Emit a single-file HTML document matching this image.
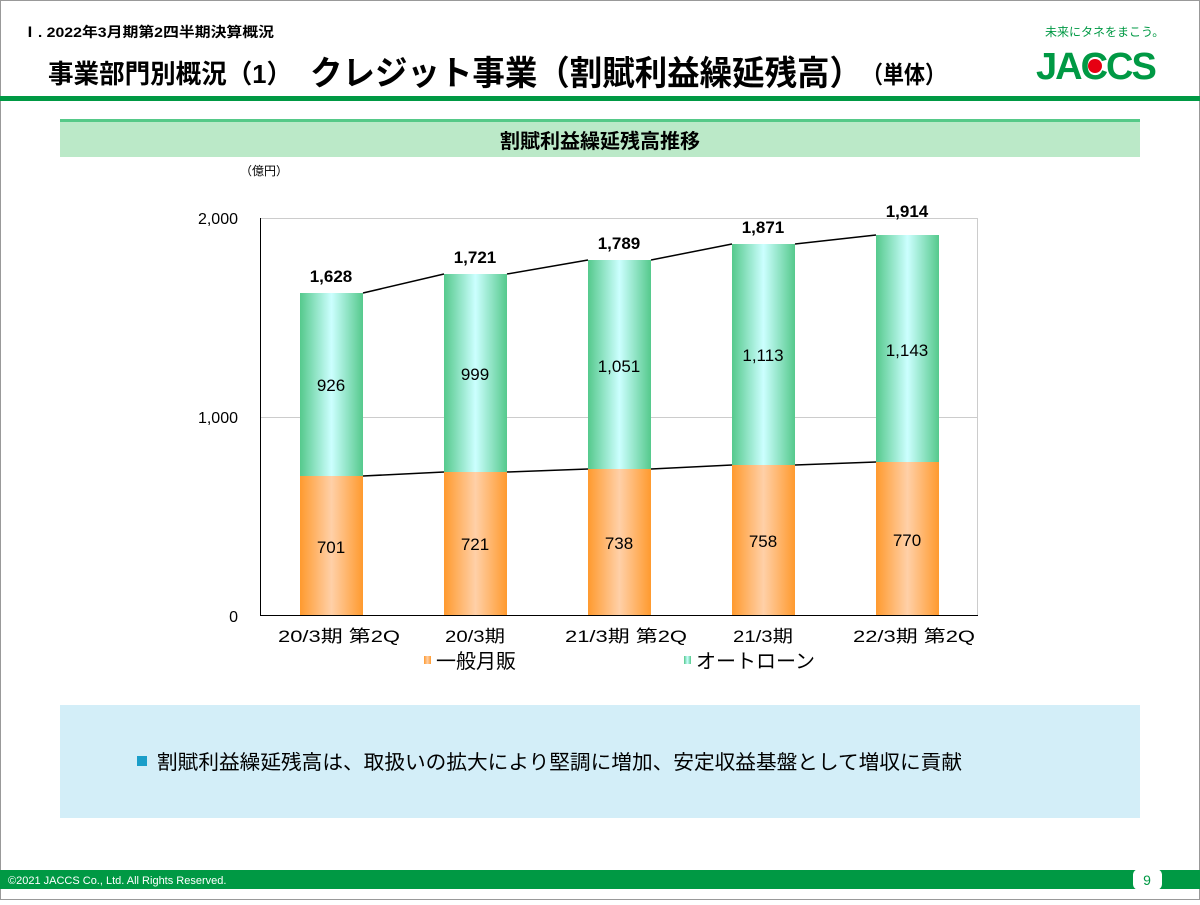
<!DOCTYPE html>
<html><head><meta charset="utf-8"><style>
html,body{margin:0;padding:0;background:#fff}
body{width:1200px;height:900px;overflow:hidden}
svg text{font-family:"Liberation Sans","Noto Sans CJK JP",sans-serif}
</style></head><body>
<svg width="1200" height="900" viewBox="0 0 1200 900" xmlns="http://www.w3.org/2000/svg">
<defs>
<linearGradient id="g" x1="0" x2="1" y1="0" y2="0">
<stop offset="0" stop-color="#55c98c"/><stop offset="0.5" stop-color="#ccffff"/><stop offset="1" stop-color="#55c98c"/></linearGradient>
<linearGradient id="o" x1="0" x2="1" y1="0" y2="0">
<stop offset="0" stop-color="#ff9a2e"/><stop offset="0.5" stop-color="#ffd0a8"/><stop offset="1" stop-color="#ff9a2e"/></linearGradient>
</defs>
<rect x="0.5" y="0.5" width="1199" height="899" fill="#fff" stroke="#999"/>
<text x="22" y="37" font-size="14" font-weight="bold" textLength="252" lengthAdjust="spacingAndGlyphs">Ⅰ. 2022年3月期第2四半期決算概況</text>
<text x="48" y="83" font-size="26" font-weight="bold" textLength="244" lengthAdjust="spacingAndGlyphs">事業部門別概況（1）</text>
<text x="310" y="85" font-size="34" font-weight="bold" textLength="552" lengthAdjust="spacingAndGlyphs">クレジット事業（割賦利益繰延残高）</text>
<text x="862" y="83" font-size="24" font-weight="bold" textLength="84" lengthAdjust="spacingAndGlyphs">（単体）</text>
<text x="1045" y="36" font-size="12" fill="#009944">未来にタネをまこう。</text>
<text x="1036" y="79" font-size="38" font-weight="bold" fill="#009944" letter-spacing="-2">JACCS</text>
<circle cx="1095" cy="66" r="7" fill="#e60012"/>
<rect x="0" y="96" width="1200" height="5" fill="#009944"/>
<rect x="60" y="119" width="1080" height="38" fill="#bbe9c8"/>
<rect x="60" y="119" width="1080" height="3" fill="#55c988"/>
<text x="600" y="148" font-size="20" font-weight="bold" text-anchor="middle">割賦利益繰延残高推移</text>
<text x="240" y="175" font-size="12">（億円）</text>
<line x1="260" y1="218.5" x2="978" y2="218.5" stroke="#ccc"/>
<line x1="260" y1="417.5" x2="978" y2="417.5" stroke="#ccc"/>
<line x1="977.5" y1="218" x2="977.5" y2="615" stroke="#ccc"/>
<line x1="260.5" y1="218" x2="260.5" y2="616" stroke="#000"/>
<line x1="260" y1="615.5" x2="978" y2="615.5" stroke="#000"/>
<g font-size="16" text-anchor="end"><text x="238" y="224">2,000</text><text x="238" y="423">1,000</text><text x="238" y="622">0</text></g>
<g stroke="#000" stroke-width="1.5">
<line x1="363" y1="293" x2="444" y2="274"/><line x1="507" y1="274" x2="588" y2="260"/><line x1="651" y1="260" x2="732" y2="244"/><line x1="795" y1="244" x2="876" y2="235"/>
<line x1="363" y1="476" x2="444" y2="472"/><line x1="507" y1="472" x2="588" y2="469"/><line x1="651" y1="469" x2="732" y2="465"/><line x1="795" y1="465" x2="876" y2="462"/>
</g>
<g font-size="17" text-anchor="middle">
<rect x="300" y="476" width="63" height="139" fill="url(#o)"/><rect x="300" y="293" width="63" height="183" fill="url(#g)"/>
<text x="331" y="553">701</text><text x="331" y="391">926</text><text x="331" y="282" font-weight="bold">1,628</text>
<rect x="444" y="472" width="63" height="143" fill="url(#o)"/><rect x="444" y="274" width="63" height="198" fill="url(#g)"/>
<text x="475" y="550">721</text><text x="475" y="380">999</text><text x="475" y="263" font-weight="bold">1,721</text>
<rect x="588" y="469" width="63" height="146" fill="url(#o)"/><rect x="588" y="260" width="63" height="209" fill="url(#g)"/>
<text x="619" y="549">738</text><text x="619" y="372">1,051</text><text x="619" y="249" font-weight="bold">1,789</text>
<rect x="732" y="465" width="63" height="150" fill="url(#o)"/><rect x="732" y="244" width="63" height="221" fill="url(#g)"/>
<text x="763" y="547">758</text><text x="763" y="361">1,113</text><text x="763" y="233" font-weight="bold">1,871</text>
<rect x="876" y="462" width="63" height="153" fill="url(#o)"/><rect x="876" y="235" width="63" height="227" fill="url(#g)"/>
<text x="907" y="546">770</text><text x="907" y="356">1,143</text><text x="907" y="217" font-weight="bold">1,914</text>
</g>
<g font-size="17">
<text x="278" y="642" textLength="122" lengthAdjust="spacingAndGlyphs">20/3期 第2Q</text>
<text x="445" y="642" textLength="60" lengthAdjust="spacingAndGlyphs">20/3期</text>
<text x="565" y="642" textLength="122" lengthAdjust="spacingAndGlyphs">21/3期 第2Q</text>
<text x="733" y="642" textLength="60" lengthAdjust="spacingAndGlyphs">21/3期</text>
<text x="853" y="642" textLength="122" lengthAdjust="spacingAndGlyphs">22/3期 第2Q</text>
</g>
<rect x="424" y="656" width="7" height="8" fill="url(#o)"/><text x="436" y="668" font-size="20">一般月販</text>
<rect x="684" y="656" width="7" height="8" fill="url(#g)"/><text x="696" y="668" font-size="20">オートローン</text>
<rect x="60" y="705" width="1080" height="113" fill="#d3eef8"/>
<rect x="137" y="756" width="10" height="10" fill="#1a9ec9"/>
<text x="157" y="769" font-size="20" textLength="805" lengthAdjust="spacingAndGlyphs">割賦利益繰延残高は、取扱いの拡大により堅調に増加、安定収益基盤として増収に貢献</text>
<rect x="0" y="870" width="1200" height="19" fill="#009944"/>
<text x="8" y="884" font-size="11" fill="#fff">©2021 JACCS Co., Ltd. All Rights Reserved.</text>
<rect x="1133" y="869" width="29" height="21" rx="6" fill="#fff"/>
<text x="1147" y="885" font-size="14" fill="#009944" text-anchor="middle">9</text>
</svg>
</body></html>
